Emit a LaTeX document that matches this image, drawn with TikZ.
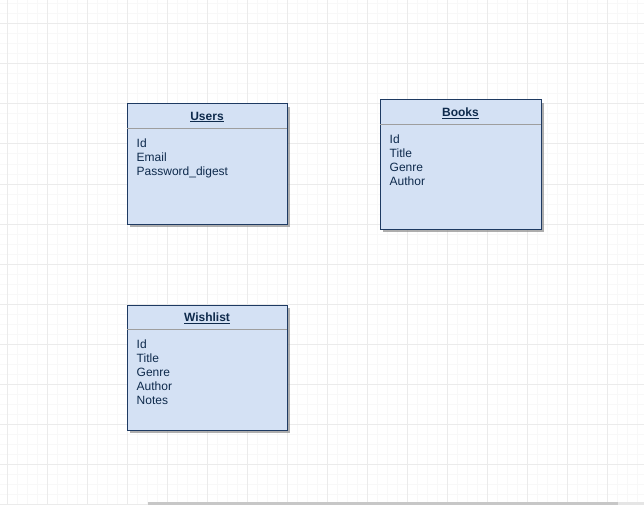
\documentclass[tikz,border=0pt]{standalone}
\usepackage{fontspec}
\setmainfont{Liberation Sans}
\usetikzlibrary{calc,positioning,shadows}
\definecolor{boxblue}{HTML}{D4E1F4}
\definecolor{boxline}{HTML}{1E3A62}
\definecolor{boxtext}{HTML}{0E2A4C}
\definecolor{minorgrid}{HTML}{F8F8F8}
\definecolor{majorgrid}{HTML}{EBEBEB}
\tikzset{
	entity/.style={draw=boxline, line width=1pt, fill=boxblue, inner sep=0pt,
		drop shadow={shadow xshift=3pt, shadow yshift=-3pt, fill=black!45, opacity=0.7}},
	etitle/.style={text=boxtext, font=\fontsize{12}{14}\selectfont\bfseries, inner sep=0pt},
	efields/.style={text=boxtext, font=\fontsize{12}{14}\selectfont, align=left,
		anchor=north west, inner sep=0pt},
	sepline/.style={draw=black!38, line width=1pt},
}

\begin{document}
\begin{tikzpicture}[x=1pt, y=-1pt]
		%%%%% START %%%%%
		\useasboundingbox (0,0) rectangle (644,505);
		\fill[white] (0,0) rectangle (644,505);
		
		% grid
		\foreach \gx in {7,17,...,637} \draw[minorgrid, line width=1pt] (\gx,0) -- (\gx,505);
		\foreach \gy in {4,14,...,504} \draw[minorgrid, line width=1pt] (0,\gy) -- (644,\gy);
		\foreach \gx in {7,47,...,607} \draw[majorgrid, line width=1pt] (\gx,0) -- (\gx,505);
		\foreach \gy in {24,64,...,504} \draw[majorgrid, line width=1pt] (0,\gy) -- (644,\gy);
		
		% tables
		\node[entity, minimum width=160pt, minimum height=120pt] (users) at (207,164) {};
		\node[entity, minimum width=161pt, minimum height=129pt] (books) at (460.5,164.5) {};
		\node[entity, minimum width=160pt, minimum height=125pt] (wishlist) at (207,367.5) {};
		
		\foreach \tbl/\ttl in {users/Users, books/Books, wishlist/Wishlist} {
			\node[etitle] (\tbl-title) at ($(\tbl.north)+(0,13.5)$) {\underline{\ttl}};
			\draw[sepline] ($(\tbl.north west)+(0.6,25)$) -- ($(\tbl.north east)+(-0.6,25)$);
		}
		
		\node[efields] (users-fields) at ($(users.north west)+(10,35.5)$) {Id\\Email\\Password\_digest};
		\node[efields] (books-fields) at ($(books.north west)+(10,35.5)$) {Id\\Title\\Genre\\Author};
		\node[efields] (wishlist-fields) at ($(wishlist.north west)+(10,35.5)$) {Id\\Title\\Genre\\Author\\Notes};
		
		% bottom bar
		\fill[black!22] (148,502) rectangle (618,505);
		\fill[black!10] (618,502) rectangle (644,505);
		%%%%% END %%%%%
	\end{tikzpicture}
\end{document}
